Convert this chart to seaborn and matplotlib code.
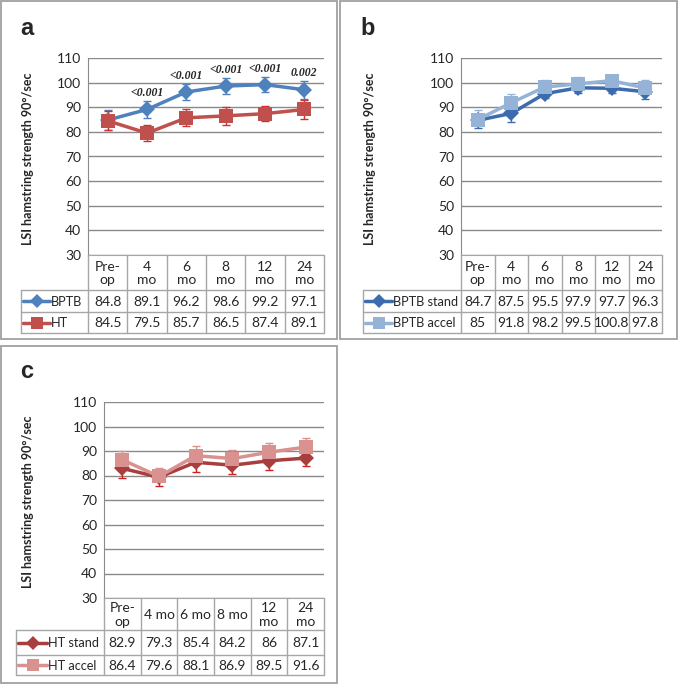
import matplotlib
matplotlib.use("Agg")
import matplotlib.pyplot as plt
import seaborn as sns
import numpy as np
from matplotlib.patches import Rectangle

# === data ===
time_ab = ["Pre-\nop", "4\nmo", "6\nmo", "8\nmo", "12\nmo", "24\nmo"]
time_c = ["Pre-\nop", "4 mo", "6 mo", "8 mo", "12\nmo", "24\nmo"]

bptb = [84.8, 89.1, 96.2, 98.6, 99.2, 97.1]
bptb_err = [4.0, 3.3, 3.3, 3.3, 3.1, 3.7]
ht = [84.5, 79.5, 85.7, 86.5, 87.4, 89.1]
ht_err = [3.9, 3.4, 3.4, 3.6, 3.1, 3.8]
p_values = ["", "<0.001", "<0.001", "<0.001", "<0.001", "0.002"]

bptb_stand = [84.7, 87.5, 95.5, 97.9, 97.7, 96.3]
bptb_stand_err = [3.3, 3.5, 1.9, 2.0, 1.8, 2.9]
bptb_accel = [85, 91.8, 98.2, 99.5, 100.8, 97.8]
bptb_accel_err = [3.9, 3.6, 2.9, 2.7, 2.3, 3.3]

ht_stand = [82.9, 79.3, 85.4, 84.2, 86, 87.1]
ht_stand_err = [3.9, 3.5, 3.8, 3.5, 3.7, 3.2]
ht_accel = [86.4, 79.6, 88.1, 86.9, 89.5, 91.6]
ht_accel_err = [3.7, 3.5, 3.9, 3.5, 3.9, 3.8]

ylabel = "LSI hamstring strength 90°/sec"

# === style ===
sns.set_style("white")
plt.rcParams['font.family'] = ['Lato', 'DejaVu Sans']

W, H = 678, 685
grid_c = "#8A8A8A"
tab_c = "#A6A6A6"
border_c = "#A0A0A0"
fs = 10

fig = plt.figure(figsize=(W / 100, H / 100), dpi=100)
ov = fig.add_axes([0, 0, 1, 1])
ov.set_xlim(0, W)
ov.set_ylim(H, 0)
ov.axis("off")


def frac(x0, y0, x1, y1):
    return [x0 / W, 1 - y1 / H, (x1 - x0) / W, (y1 - y0) / H]


def draw_panel(letter, letter_xy, box, plot, table_left, rows, labels, series, ylab_xy, pvals=None):
    ov.add_patch(Rectangle((box[0], box[1]), box[2] - box[0], box[3] - box[1],
                           fill=False, ec=border_c, lw=1.3))
    ov.text(letter_xy[0], letter_xy[1], letter, fontsize=17, fontweight="bold",
            family="Liberation Sans", va="baseline", ha="left")
    ov.text(ylab_xy[0], ylab_xy[1], ylabel, rotation=90, ha="center", va="center",
            fontsize=9, fontweight="bold")

    ax = fig.add_axes(frac(*plot))
    ax.set_facecolor("none")
    pos = np.arange(6)
    for s in series:
        err = np.array(s["err"])
        zero = np.zeros_like(err)
        lower = err if s["dir"] in ("both", "down") else zero
        upper = err if s["dir"] in ("both", "up") else zero
        ax.errorbar(pos, s["vals"], yerr=[lower, upper], fmt="none", ecolor=s["ecolor"],
                    elinewidth=1, capsize=2.8, capthick=1, zorder=2)
        sns.lineplot(x=pos, y=s["vals"], ax=ax, color=s["color"], marker=s["marker"],
                     markersize=s["ms"], markeredgewidth=0, linewidth=2.5, zorder=3)
    if pvals is not None:
        top = np.array(series[0]["vals"]) + np.array(series[0]["err"])
        for i, p in enumerate(pvals):
            if p:
                ax.annotate(p, (i, top[i]), xytext=(0, 1.5), textcoords="offset points",
                            ha="center", va="bottom", fontsize=8.5, family="Liberation Serif",
                            style="italic", weight="bold")
    ax.set_xlim(-0.5, 5.5)
    ax.set_ylim(30, 110)
    ax.set_yticks(range(30, 111, 10))
    ax.set_xticks([])
    ax.set_xlabel("")
    ax.set_ylabel("")
    ax.grid(axis="y", color=grid_c, lw=1)
    ax.set_axisbelow(True)
    for sp in ("top", "right"):
        ax.spines[sp].set_visible(False)
    ax.spines["left"].set_color(grid_c)
    ax.spines["bottom"].set_color(tab_c)
    ax.tick_params(axis="y", length=0, pad=5, labelsize=fs)

    # data table under the axis
    x0, ytop, x1 = plot[0], plot[3], plot[2]
    cw = (x1 - x0) / 6
    hb, r1, r2 = rows
    for k in range(7):
        xv = x0 + k * cw
        ov.plot([xv, xv], [ytop, r2], color=tab_c, lw=1)
    ov.plot([table_left, table_left], [hb, r2], color=tab_c, lw=1)
    for yy in (hb, r1, r2):
        ov.plot([table_left, x1], [yy, yy], color=tab_c, lw=1)
    for k, lab in enumerate(labels):
        ov.text(x0 + (k + 0.5) * cw, (ytop + hb) / 2 + 1, lab, ha="center", va="center",
                fontsize=fs, linespacing=1.15)
    centers = [(hb + r1) / 2, (r1 + r2) / 2]
    for s, yc in zip(series, centers):
        lx0, lx1 = table_left + 2, s["legend_end"]
        ov.plot([lx0, lx1], [yc, yc], color=s["color"], lw=2.5)
        ov.plot([(lx0 + lx1) / 2], [yc], marker=s["marker"], ms=s["ms"] - 1, color=s["color"],
                markeredgewidth=0)
        ov.text(lx1 + 1, yc + 0.5, s["name"], ha="left", va="center", fontsize=9.2)
        for k, v in enumerate(s["vals"]):
            ov.text(x0 + (k + 0.5) * cw, yc + 0.5, f"{v:g}", ha="center", va="center", fontsize=fs)


blue, red = "#4F81BD", "#C0504D"
dblue, lblue = "#3C6BAE", "#95B3D7"
dred, pink = "#A93E3E", "#D9928F"

draw_panel(
    "a", (20, 35), (1, 1, 337, 339), (88, 58, 324, 255), 21, (290, 312, 333), time_ab,
    [dict(name="BPTB", vals=bptb, err=bptb_err, color=blue, ecolor=blue, marker="D", ms=8.5,
          dir="both", legend_end=50),
     dict(name="HT", vals=ht, err=ht_err, color=red, ecolor="#D03030", marker="s", ms=10,
          dir="both", legend_end=50)],
    (28, 159), pvals=p_values)

draw_panel(
    "b", (360, 35), (340, 1, 677, 339), (461, 58, 662, 255), 363, (290, 312, 333), time_ab,
    [dict(name="BPTB stand", vals=bptb_stand, err=bptb_stand_err, color=dblue, ecolor=dblue,
          marker="D", ms=8.5, dir="down", legend_end=392),
     dict(name="BPTB accel", vals=bptb_accel, err=bptb_accel_err, color=lblue, ecolor=lblue,
          marker="s", ms=10, dir="up", legend_end=392)],
    (370, 159))

draw_panel(
    "c", (20, 378), (1, 346, 337, 683), (104, 402, 324, 598), 16, (630, 655, 675), time_c,
    [dict(name="HT stand", vals=ht_stand, err=ht_stand_err, color=dred, ecolor="#D02020",
          marker="D", ms=8.5, dir="down", legend_end=47),
     dict(name="HT accel", vals=ht_accel, err=ht_accel_err, color=pink, ecolor=pink,
          marker="s", ms=10, dir="up", legend_end=47)],
    (28, 502))

fig.savefig("out.png", dpi=100)
